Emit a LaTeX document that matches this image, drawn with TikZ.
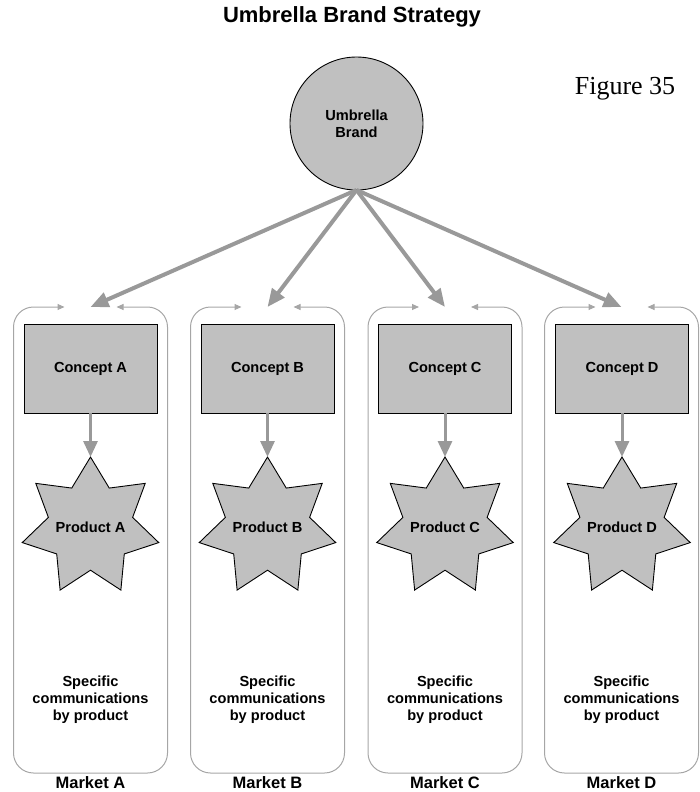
\documentclass[tikz,border=0pt]{standalone}
\usepackage{fontspec}
\setmainfont{Liberation Sans}
\newfontfamily\figfont{Liberation Serif}
\usetikzlibrary{arrows.meta,shapes.geometric}
\definecolor{shade}{HTML}{C0C0C0}
\definecolor{linkgray}{HTML}{999999}
\definecolor{edgegray}{HTML}{A6A6A6}

\begin{document}
\begin{tikzpicture}[x=1pt,y=-1pt,
    every node/.style={align=center,outer sep=0pt,font=\bfseries\fontsize{14.6}{17}\selectfont},
    concept/.style={draw,fill=shade,line width=0.9pt,minimum width=133pt,minimum height=89pt,inner sep=0pt},
    product/.style={star,star points=7,star point ratio=1.62,draw,fill=shade,line width=0.9pt,minimum size=140pt,inner sep=0pt},
    market/.style={draw=edgegray,line width=1pt,rounded corners=20pt,
      {Triangle[length=7pt,width=6pt]}-{Triangle[length=7pt,width=6pt]}},
    link/.style={draw=linkgray,line width=4pt,-{Triangle[length=18pt,width=15pt]}},
    flow/.style={draw=linkgray,line width=3pt,-{Triangle[length=16pt,width=14pt]}},
    mlabel/.style={font=\bfseries\fontsize{16.5}{19}\selectfont}]
  \useasboundingbox (0,0) rectangle (699,792);

  \node[font=\bfseries\fontsize{22}{26}\selectfont] (title) at (352,17) {Umbrella Brand Strategy};
  \node[font=\figfont\fontsize{26}{30}\selectfont] (fig) at (625,89) {Figure 35};
  \node[circle,draw,fill=shade,line width=0.9pt,minimum size=133pt,inner sep=0pt] (brand) at (356.5,123.5)
    {Umbrella\\Brand};

  % market columns
  \coordinate (topA) at (90.5,307);
  \coordinate (topB) at (267.5,307);
  \coordinate (topC) at (445,307);
  \coordinate (topD) at (621.5,307);

  \draw[market] ([xshift=26pt]topA) -| (167.5,773) -| (13.5,307) -- ([xshift=-26pt]topA);
  \draw[market] ([xshift=26pt]topB) -| (344.5,773) -| (190.5,307) -- ([xshift=-26pt]topB);
  \draw[market] ([xshift=26pt]topC) -| (522,773) -| (368,307) -- ([xshift=-26pt]topC);
  \draw[market] ([xshift=26pt]topD) -| (698.5,773) -| (544.5,307) -- ([xshift=-26pt]topD);

  \node[concept] (cA) at (90.5,368.5) {Concept A};
  \node[concept] (cB) at (267.5,368.5) {Concept B};
  \node[concept] (cC) at (445,368.5) {Concept C};
  \node[concept] (cD) at (622,368.5) {Concept D};

  \node[product,label=center:{Product A}] (pA) at (90.5,527) {};
  \node[product,label=center:{Product B}] (pB) at (267.5,527) {};
  \node[product,label=center:{Product C}] (pC) at (445,527) {};
  \node[product,label=center:{Product D}] (pD) at (622,527) {};

  \node (sA) at (90.5,700) {Specific\\communications\\by product};
  \node (sB) at (267.5,700) {Specific\\communications\\by product};
  \node (sC) at (445,700) {Specific\\communications\\by product};
  \node (sD) at (621.5,700) {Specific\\communications\\by product};

  \node[mlabel] (mA) at (90.5,783) {Market A};
  \node[mlabel] (mB) at (267.5,783) {Market B};
  \node[mlabel] (mC) at (445,783) {Market C};
  \node[mlabel] (mD) at (621.5,783) {Market D};

  % arrows
  \draw[link] (brand.south) -- (topA);
  \draw[link] (brand.south) -- (topB);
  \draw[link] (brand.south) -- (topC);
  \draw[link] (brand.south) -- (topD);

  \draw[flow] (cA) -- (pA);
  \draw[flow] (cB) -- (pB);
  \draw[flow] (cC) -- (pC);
  \draw[flow] (cD) -- (pD);
\end{tikzpicture}
\end{document}
